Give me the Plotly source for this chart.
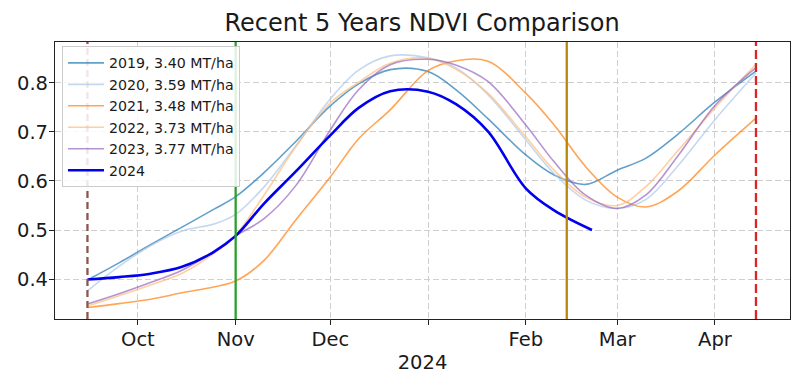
import plotly.graph_objects as go

# ---- data ----
dates = ["2023-09-15", "2023-09-25", "2023-10-05", "2023-10-15", "2023-10-25",
         "2023-11-01", "2023-11-10", "2023-11-20", "2023-12-01", "2023-12-10",
         "2023-12-20", "2024-01-01", "2024-01-10", "2024-01-20", "2024-02-01",
         "2024-02-10", "2024-02-20", "2024-03-01", "2024-03-10", "2024-03-20",
         "2024-04-01", "2024-04-14"]

ndvi_2019 = [0.398, 0.433, 0.470, 0.506, 0.542, 0.568, 0.617, 0.680, 0.753, 0.798, 0.827,
             0.823, 0.785, 0.727, 0.653, 0.612, 0.593, 0.622, 0.646, 0.694, 0.761, 0.824]
ndvi_2020 = [0.376, 0.426, 0.468, 0.498, 0.512, 0.532, 0.588, 0.671, 0.767, 0.826, 0.855,
             0.851, 0.830, 0.776, 0.684, 0.615, 0.561, 0.544, 0.562, 0.629, 0.725, 0.820]
ndvi_2021 = [0.342, 0.350, 0.359, 0.372, 0.384, 0.396, 0.438, 0.520, 0.608, 0.686, 0.745,
             0.825, 0.845, 0.844, 0.779, 0.714, 0.629, 0.567, 0.547, 0.578, 0.653, 0.728]
ndvi_2022 = [0.345, 0.366, 0.388, 0.412, 0.452, 0.490, 0.571, 0.669, 0.759, 0.801, 0.840,
             0.850, 0.827, 0.779, 0.690, 0.622, 0.567, 0.550, 0.588, 0.660, 0.749, 0.838]
ndvi_2023 = [0.349, 0.370, 0.393, 0.418, 0.456, 0.488, 0.523, 0.590, 0.704, 0.786, 0.837,
             0.848, 0.836, 0.803, 0.714, 0.639, 0.571, 0.544, 0.571, 0.649, 0.754, 0.831]

dates_2024 = dates[:16] + ["2024-02-22"]
ndvi_2024 = [0.399, 0.404, 0.411, 0.425, 0.455, 0.488, 0.554, 0.619, 0.693, 0.749, 0.783,
             0.782, 0.756, 0.701, 0.585, 0.540, 0.500]

series_names = ["2019, 3.40 MT/ha", "2020, 3.59 MT/ha", "2021, 3.48 MT/ha",
                "2022, 3.73 MT/ha", "2023, 3.77 MT/ha"]
series_values = [ndvi_2019, ndvi_2020, ndvi_2021, ndvi_2022, ndvi_2023]
series_colors = ["rgba(31,119,180,0.7)", "rgba(174,199,232,0.7)", "rgba(255,127,14,0.7)",
                 "rgba(255,187,120,0.7)", "rgba(148,103,189,0.7)"]

event_dates = ["2023-09-15", "2023-11-01", "2024-02-14", "2024-04-14"]
event_colors = ["#8c564b", "#2ca02c", "#b8860b", "#d62728"]
event_dashes = ["7px,4px", "solid", "solid", "9px,4px"]

month_ticks = ["2023-10-01", "2023-11-01", "2023-12-01", "2024-01-01",
               "2024-02-01", "2024-03-01", "2024-04-01"]
month_labels = ["Oct", "Nov", "Dec", "", "Feb", "Mar", "Apr"]
y_ticks = [0.4, 0.5, 0.6, 0.7, 0.8]

x_range = ["2023-09-04 17:00", "2024-04-24 19:00"]
y_range = [0.3186, 0.8833]

FONT = "DejaVu Sans"

fig = go.Figure()
for name, vals, col in zip(series_names, series_values, series_colors):
    fig.add_trace(go.Scatter(x=dates, y=vals, mode="lines", name=name,
                             line=dict(color=col, width=1.6, shape="spline", smoothing=1.0)))
fig.add_trace(go.Scatter(x=dates_2024, y=ndvi_2024, mode="lines", name="2024",
                         line=dict(color="#0000ee", width=2.6, shape="spline", smoothing=1.0)))

for d, c, ds in zip(event_dates, event_colors, event_dashes):
    fig.add_shape(type="line", xref="x", yref="paper", x0=d, x1=d, y0=0, y1=1,
                  line=dict(color=c, width=2.3, dash=ds), layer="above")

axis_common = dict(showline=True, linecolor="#222222", linewidth=1.2, mirror=True,
                   ticks="outside", ticklen=5, tickcolor="#222222", automargin=False,
                   ticklabelstandoff=-3,
                   showgrid=True, gridcolor="#cfcfcf", griddash="6px,3px", gridwidth=1,
                   zeroline=False, tickfont=dict(family=FONT, size=19.5, color="#1a1a1a"))

# the page body adds an 8px offset, so the figure is sized 804x372
fig.update_layout(
    width=804, height=372,
    margin=dict(l=47, r=22, t=34, b=61),
    paper_bgcolor="white", plot_bgcolor="white",
    font=dict(family=FONT, color="#1a1a1a"),
    title=dict(text="Recent 5 Years NDVI Comparison", x=0.515, xanchor="center",
               y=0.961, yanchor="middle", yref="container", automargin=False,
               font=dict(family=FONT, size=24, color="#1a1a1a")),
    xaxis=dict(type="date", range=x_range, tickvals=month_ticks, ticktext=month_labels,
               title=dict(text="2024", font=dict(family=FONT, size=19.5), standoff=5),
               **axis_common),
    yaxis=dict(range=y_range, tickvals=y_ticks, ticktext=[f"{v:.1f}" for v in y_ticks],
               **axis_common),
    legend=dict(x=0.0095, y=0.985, xanchor="left", yanchor="top",
                bgcolor="rgba(255,255,255,0.85)", bordercolor="#cccccc", borderwidth=1,
                font=dict(family=FONT, size=14.2, color="#1a1a1a"), itemwidth=36),
    showlegend=True,
)

fig.write_html("out.html")
